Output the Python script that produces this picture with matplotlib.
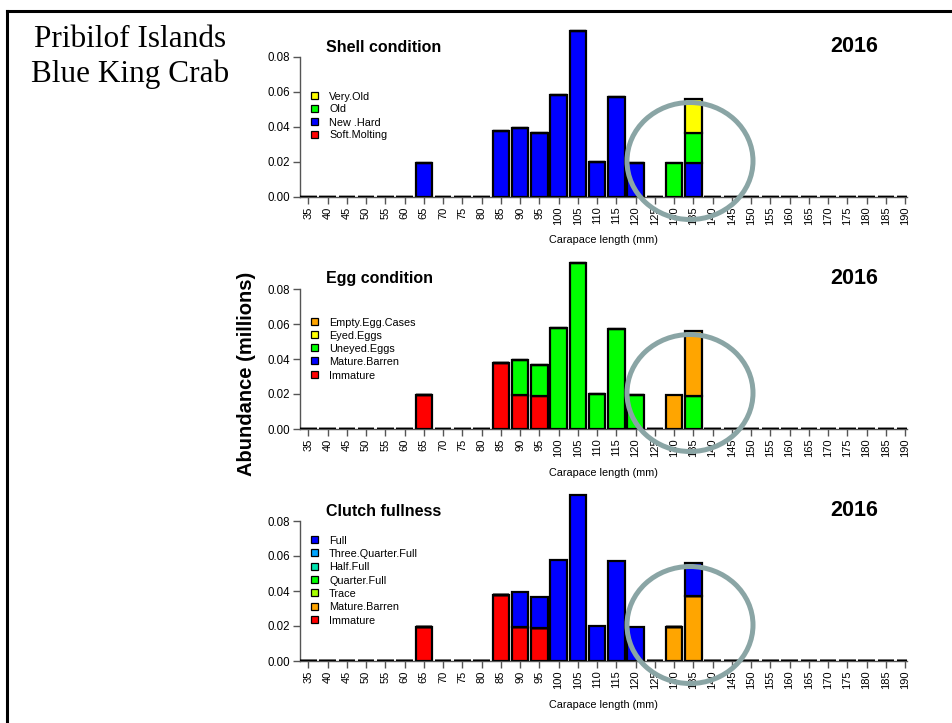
import matplotlib
matplotlib.use("Agg")
import matplotlib.pyplot as plt
from matplotlib.patches import Ellipse, Rectangle
from matplotlib.lines import Line2D
import numpy as np

W, H = 953, 723
plt.rcParams['font.family'] = ['Liberation Sans', 'DejaVu Sans']

# ---------------- data ----------------
bins = list(range(35, 195, 5))  # 35..190
n = len(bins)

def series(d):
    return [d.get(b, 0.0) for b in bins]

# Shell condition
soft_molting = series({})
new_hard = series({65: 0.0197, 85: 0.0375, 90: 0.0393, 95: 0.0363, 100: 0.058, 105: 0.0949,
                   110: 0.0198, 115: 0.0574, 120: 0.0193, 135: 0.0193})
old = series({130: 0.0194, 135: 0.0174})
very_old = series({135: 0.0195})

# Egg condition
immature_egg = series({65: 0.0197, 85: 0.0375, 90: 0.0196, 95: 0.019})
mature_barren_egg = series({})
uneyed_eggs = series({90: 0.0197, 95: 0.0173, 100: 0.058, 105: 0.0949, 110: 0.0198,
                      115: 0.0574, 120: 0.0193, 135: 0.019})
eyed_eggs = series({})
empty_egg_cases = series({130: 0.0194, 135: 0.0372})

# Clutch fullness
immature_cl = series({65: 0.0197, 85: 0.0375, 90: 0.0196, 95: 0.019})
mature_barren_cl = series({130: 0.0194, 135: 0.037})
trace = series({})
quarter_full = series({})
half_full = series({})
three_quarter_full = series({})
full = series({90: 0.0197, 95: 0.0173, 100: 0.058, 105: 0.0949, 110: 0.0198,
               115: 0.0574, 120: 0.0193, 135: 0.0192})

yticks = [0.00, 0.02, 0.04, 0.06, 0.08]
ytick_labels = ['0.00', '0.02', '0.04', '0.06', '0.08']

panels = [
    dict(title='Shell condition', year='2016', zero_px=197,
         stack=[('Soft.Molting', soft_molting, '#FF0000'),
                ('New .Hard', new_hard, '#0000FF'),
                ('Old', old, '#00FF00'),
                ('Very.Old', very_old, '#FFFF00')],
         legend_y=[96.7, 109.5, 122.5, 135.5]),
    dict(title='Egg condition', year='2016', zero_px=429,
         stack=[('Immature', immature_egg, '#FF0000'),
                ('Mature.Barren', mature_barren_egg, '#0000FF'),
                ('Uneyed.Eggs', uneyed_eggs, '#00FF00'),
                ('Eyed.Eggs', eyed_eggs, '#FFFF00'),
                ('Empty.Egg.Cases', empty_egg_cases, '#FFA500')],
         legend_y=[322.7, 336, 349.3, 362.3, 375.5]),
    dict(title='Clutch fullness', year='2016', zero_px=661,
         stack=[('Immature', immature_cl, '#FF0000'),
                ('Mature.Barren', mature_barren_cl, '#FFA500'),
                ('Trace', trace, '#A6FF00'),
                ('Quarter.Full', quarter_full, '#00FF00'),
                ('Half.Full', half_full, '#00E5B0'),
                ('Three.Quarter.Full', three_quarter_full, '#00A5FF'),
                ('Full', full, '#0000FF')],
         legend_y=[541, 554.3, 567.5, 580.8, 594, 607.5, 620.8]),
]

# ---------------- layout helpers ----------------
def fx(x):
    return x / W

def fy(y):
    return 1 - y / H

fig = plt.figure(figsize=(W / 100, H / 100), dpi=100)

ax_left, ax_right = 300, 907.3
tick0, step = 308.3, 19.25
xlim = ((ax_left - tick0) / step, (ax_right - tick0) / step)
px_per_unit = 35 / 0.02
ymax = 0.097

axis_col = '#555555'

for p in panels:
    z = p['zero_px']
    top_px = z - ymax * px_per_unit
    ax = fig.add_axes([fx(ax_left), fy(z), (ax_right - ax_left) / W, (z - top_px) / H])
    x = np.arange(n)
    bottom = np.zeros(n)
    for name, vals, col in p['stack']:
        v = np.array(vals)
        ax.bar(x, v, width=0.86, bottom=bottom, color=col, edgecolor='black',
               linewidth=1.6, zorder=3)
        bottom = bottom + v
    ax.set_xlim(*xlim)
    ax.set_ylim(0, ymax)
    ax.set_xticks(x)
    ax.set_xticklabels([str(b) for b in bins], rotation=90, fontsize=8)
    ax.set_yticks(yticks)
    ax.set_yticklabels(ytick_labels, fontsize=8.3)
    for s in ['top', 'right']:
        ax.spines[s].set_visible(False)
    ax.spines['left'].set_bounds(0, 0.08)
    ax.spines['left'].set_color(axis_col)
    ax.spines['bottom'].set_color(axis_col)
    ax.spines['left'].set_linewidth(1.0)
    ax.spines['bottom'].set_linewidth(1.0)
    ax.tick_params(axis='both', colors=axis_col, labelcolor='black', length=5, width=1.0, pad=2)
    ax.patch.set_alpha(0)

    # titles
    fig.text(fx(325.7), fy(z - 145.5), p['title'], fontsize=11.5, fontweight='bold',
             ha='left', va='baseline')
    fig.text(fx(878), fy(z - 145), p['year'], fontsize=15.5, fontweight='bold',
             ha='right', va='baseline')
    # x axis label
    fig.text(fx(603), fy(z + 43.5), 'Carapace length (mm)', fontsize=7.8,
             ha='center', va='center')
    # legend (top entry is last series)
    entries = list(reversed(p['stack']))
    for (name, vals, col), ly in zip(entries, p['legend_y']):
        fig.patches.append(Rectangle((fx(311), fy(ly + 2)), 7 / W, 7 / H,
                                     transform=fig.transFigure, facecolor=col,
                                     edgecolor='black', linewidth=0.9, zorder=5))
        fig.text(fx(329), fy(ly), name, fontsize=7.8, ha='left', va='center')

    # highlight circle
    fig.patches.append(Ellipse((fx(690), fy(z - 36)), 126 / W, 117 / H,
                               transform=fig.transFigure, fill=False,
                               edgecolor='#8AA5A5', linewidth=3.6, zorder=10))

# y-axis label
fig.text(fx(247), fy(374), 'Abundance (millions)', fontsize=14.5, fontweight='bold',
         rotation=90, ha='center', va='center')

# figure title
fig.text(fx(130), fy(46.7), 'Pribilof Islands', fontsize=22.5, family='Liberation Serif',
         ha='center', va='baseline')
fig.text(fx(130), fy(81.7), 'Blue King Crab', fontsize=22.5, family='Liberation Serif',
         ha='center', va='baseline')

# frame lines
fig.add_artist(Line2D([fx(7.2), 1.0], [fy(10.5), fy(10.5)], transform=fig.transFigure,
                      color='black', linewidth=2.2))
fig.add_artist(Line2D([fx(7.2), fx(7.2)], [fy(10.5), 0.0], transform=fig.transFigure,
                      color='black', linewidth=2.2))

fig.savefig('out.png', dpi=100)
